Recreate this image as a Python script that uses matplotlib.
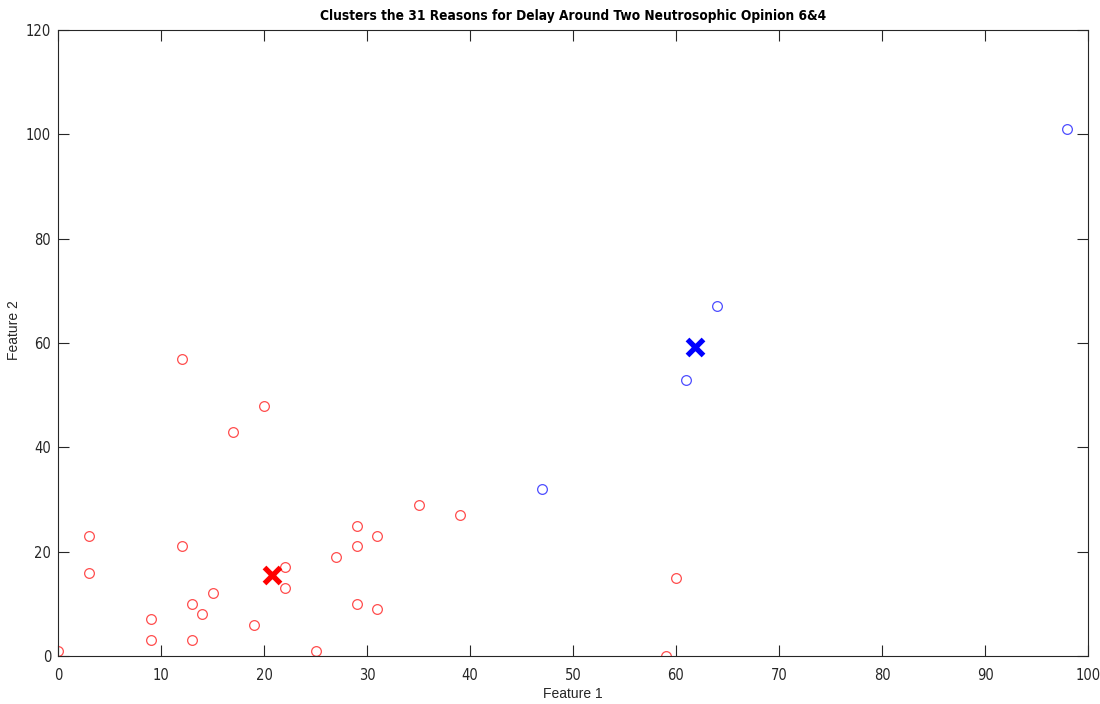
import matplotlib
matplotlib.use('Agg')
import matplotlib.pyplot as plt
from matplotlib import font_manager

# cluster 1 (red) and cluster 2 (blue) points
red_x = [0, 3, 3, 9, 9, 12, 12, 13, 13, 14, 15, 17, 19, 20, 22, 22, 25, 27, 29, 29, 29, 31, 31, 35, 39, 59, 60]
red_y = [1, 23, 16, 7, 3, 57, 21, 10, 3, 8, 12, 43, 6, 48, 17, 13, 1, 19, 25, 21, 10, 23, 9, 29, 27, 0, 15]
blue_x = [47, 61, 64, 98]
blue_y = [32, 53, 67, 101]

# centroids
centroid_x = [20.8, 61.8]
centroid_y = [15.5, 59.3]
centroid_colors = ['red', 'blue']

x_ticks = list(range(0, 101, 10))
y_ticks = list(range(0, 121, 20))


def find_narrow(bold):
    # look for any condensed / narrow sans font installed
    for f in font_manager.fontManager.ttflist:
        narrow = str(f.stretch) in ('condensed', 'semi-condensed') or 'Narrow' in f.name or 'Condensed' in f.name
        is_bold = f.weight in ('bold', 700, 'semibold', 600)
        if narrow and is_bold == bold and f.style == 'normal' and 'Mono' not in f.name and 'Serif' not in f.name:
            return font_manager.FontProperties(fname=f.fname)
    return None


tick_fp = find_narrow(False)
title_fp = find_narrow(True)
tick_size = 10.5 if tick_fp else 9.5
title_size = 9.8 if title_fp else 10.3
if tick_fp is None:
    tick_fp = font_manager.FontProperties(family='Liberation Sans')
if title_fp is None:
    title_fp = font_manager.FontProperties(family='Liberation Sans', weight='bold')
tick_fp.set_size(tick_size)
title_fp.set_size(title_size)

fig = plt.figure(figsize=(11, 7.04), dpi=100)
ax = fig.add_axes([58 / 1100, 48 / 704, 1030 / 1100, 626 / 704])

ax.plot(red_x, red_y, 'o', mfc='none', mec=(1, 0.3, 0.3), ms=7, mew=0.9, linestyle='none')
ax.plot(blue_x, blue_y, 'o', mfc='none', mec=(0.3, 0.3, 1), ms=7, mew=0.9, linestyle='none')
for cx, cy, c in zip(centroid_x, centroid_y, centroid_colors):
    ax.plot(cx, cy, 'x', color=c, ms=11, mew=3.8)

ax.set_xlim(0, 100)
ax.set_ylim(0, 120)
ax.set_xticks(x_ticks)
ax.set_yticks(y_ticks)

ax.tick_params(direction='in', length=8, width=0.8, colors=(0.15, 0.15, 0.15),
               top=True, right=True, pad=5)
ax.tick_params(axis='x', pad=9)
for lbl in ax.get_xticklabels() + ax.get_yticklabels():
    lbl.set_fontproperties(tick_fp)
for s in ax.spines.values():
    s.set_color((0.15, 0.15, 0.15))
    s.set_linewidth(0.8)

ax.set_xlabel('Feature 1', fontsize=10, family='Liberation Sans', color=(0.15, 0.15, 0.15))
ax.xaxis.set_label_coords(0.5, -31 / 626)
ax.set_ylabel('Feature 2', fontsize=10, family='Liberation Sans', color=(0.15, 0.15, 0.15))
ax.yaxis.set_label_coords(-37 / 1030, 0.52)
ax.set_title('Clusters the 31 Reasons for Delay Around Two Neutrosophic Opinion 6&4',
             fontproperties=title_fp, pad=7)

plt.savefig('out.png', dpi=100)
plt.close()
